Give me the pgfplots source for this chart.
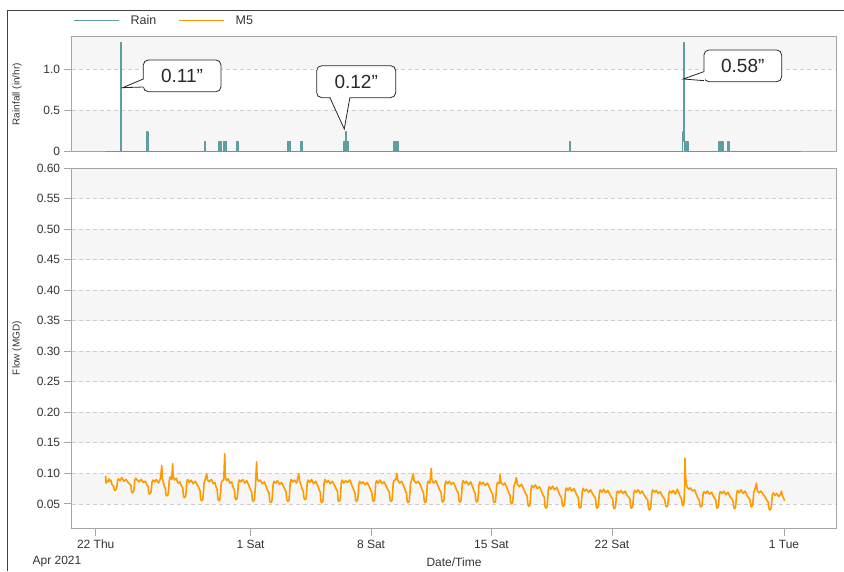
\documentclass[border=0pt]{standalone}
\usepackage{fontspec}
\setmainfont{Liberation Sans}
\usepackage{pgfplots}
\pgfplotsset{compat=1.18}

\definecolor{rain}{RGB}{95,158,160}
\definecolor{flow}{RGB}{255,155,0}
\definecolor{band}{RGB}{246,246,246}
\definecolor{gridc}{RGB}{205,205,205}
\definecolor{axc}{RGB}{165,165,165}
\definecolor{txt}{RGB}{51,51,51}
\definecolor{callc}{RGB}{40,40,40}

\pgfplotsset{
  mystyle/.style={
    scale only axis, width=765pt,
    xmin=-1.395, xmax=43.06,
    axis line style={axc, line width=0.9pt},
    tick style={axc, line width=0.9pt},
    tick align=outside, major tick length=8pt,
    xtick pos=bottom, ytick pos=left,
    ymajorgrids, grid style={gridc, dash pattern=on 4pt off 3pt, line width=0.7pt},
    tick label style={font=\fontsize{12}{14}\selectfont, text=txt},
    /pgf/number format/assume math mode=true,
  },
  bandstyle/.style={scale only axis, width=765pt, xmin=-1.395, xmax=43.06, hide axis},
}

\begin{document}
\begin{tikzpicture}
\useasboundingbox (0,0) rectangle (844pt,571pt);

% ---------------- background bands ----------------
\begin{axis}[bandstyle, at={(71.7pt,419.3pt)}, anchor=south west, height=115pt, ymin=0, ymax=1.392]
\fill[band] (axis cs:-1.395,0) rectangle (axis cs:43.06,0.5);
\fill[band] (axis cs:-1.395,1) rectangle (axis cs:43.06,1.392);
\end{axis}
\begin{axis}[bandstyle, at={(71.7pt,42.7pt)}, anchor=south west, height=360.3pt, ymin=0.01, ymax=0.6]
\fill[band] (axis cs:-1.395,0.05) rectangle (axis cs:43.06,0.10);
\fill[band] (axis cs:-1.395,0.15) rectangle (axis cs:43.06,0.20);
\fill[band] (axis cs:-1.395,0.25) rectangle (axis cs:43.06,0.30);
\fill[band] (axis cs:-1.395,0.35) rectangle (axis cs:43.06,0.40);
\fill[band] (axis cs:-1.395,0.45) rectangle (axis cs:43.06,0.50);
\fill[band] (axis cs:-1.395,0.55) rectangle (axis cs:43.06,0.60);
\end{axis}

% ---------------- Rain panel ----------------
\begin{axis}[mystyle, at={(71.7pt,419.3pt)}, anchor=south west, height=115pt,
  ymin=0, ymax=1.392, ytick={0,0.5,1}, yticklabels={0,0.5,1.0},
  xtick=\empty,
  ylabel={Rainfall (in/hr)},
  ylabel style={at={(axis description cs:-0.0715,0.5)}, anchor=center, font=\fontsize{10}{12}\selectfont, text=txt},
  legend style={at={(axis description cs:0,1)}, anchor=west, yshift=16.2pt, xshift=1.3pt,
    draw=none, fill=none, inner sep=0pt, legend columns=2,
    font=\fontsize{12.5}{14}\selectfont, text=txt,
    /tikz/every odd column/.append style={column sep=9pt},
    /tikz/every even column/.append style={column sep=20pt}},
  legend image code/.code={\draw[#1] (0pt,0pt) -- (45pt,0pt);},
]
\addplot[rain, line width=1.4pt, line join=round] coordinates {
(0.55,0)(1.45,0)(1.45,1.32)(1.49,1.32)(1.49,0)
(2.97,0)(2.97,0.24)(3.03,0.24)(3.03,0)
(6.32,0)(6.32,0.12)(6.38,0.12)(6.38,0)
(7.16,0)(7.16,0.12)(7.18,0.12)(7.18,0)(7.20,0)(7.20,0.12)(7.22,0.12)(7.22,0)(7.24,0)(7.24,0.12)(7.26,0.12)(7.26,0)(7.28,0)(7.28,0.12)(7.30,0.12)(7.30,0)
(7.46,0)(7.46,0.12)(7.48,0.12)(7.48,0)(7.50,0)(7.50,0.12)(7.52,0.12)(7.52,0)(7.54,0)(7.54,0.12)(7.56,0.12)(7.56,0)
(8.20,0)(8.20,0.12)(8.26,0.12)(8.26,0)
(11.14,0)(11.14,0.12)(11.16,0.12)(11.16,0)(11.18,0)(11.18,0.12)(11.20,0.12)(11.20,0)(11.22,0)(11.22,0.12)(11.24,0.12)(11.24,0)(11.26,0)(11.26,0.12)(11.28,0.12)(11.28,0)(11.30,0)(11.30,0.12)(11.31,0.12)(11.31,0)
(11.94,0)(11.94,0.12)(12.00,0.12)(12.00,0)
(14.43,0)(14.43,0.12)(14.45,0.12)(14.45,0)(14.47,0)(14.47,0.12)(14.49,0.12)(14.49,0)(14.51,0)(14.51,0.12)(14.53,0.12)(14.53,0.24)(14.58,0.24)(14.58,0.12)(14.60,0.12)(14.60,0)(14.62,0)(14.62,0.12)(14.64,0.12)(14.64,0)(14.66,0)(14.66,0.12)(14.68,0.12)(14.68,0)(14.70,0)
(17.34,0)(17.34,0.12)(17.36,0.12)(17.36,0)(17.38,0)(17.38,0.12)(17.40,0.12)(17.40,0)(17.42,0)(17.42,0.12)(17.44,0.12)(17.44,0)(17.46,0)(17.46,0.12)(17.48,0.12)(17.48,0)(17.50,0)(17.50,0.12)(17.52,0.12)(17.52,0)(17.54,0)(17.54,0.12)(17.56,0.12)(17.56,0)
(27.53,0)(27.53,0.12)(27.59,0.12)(27.59,0)
(34.10,0)(34.10,0.12)(34.12,0.12)(34.12,0.24)(34.17,0.24)(34.17,1.32)(34.20,1.32)(34.20,0.24)(34.22,0.24)(34.22,0.12)(34.24,0.12)(34.24,0)(34.26,0)(34.26,0.12)(34.28,0.12)(34.28,0)(34.30,0)(34.30,0.12)(34.32,0.12)(34.32,0)(34.34,0)(34.34,0.12)(34.36,0.12)(34.36,0)(34.38,0)(34.38,0.12)(34.40,0.12)(34.40,0)(34.42,0)(34.42,0.12)(34.43,0.12)(34.43,0)
(36.23,0)(36.23,0.12)(36.25,0.12)(36.25,0)(36.27,0)(36.27,0.12)(36.29,0.12)(36.29,0)(36.31,0)(36.31,0.12)(36.33,0.12)(36.33,0)(36.35,0)(36.35,0.12)(36.37,0.12)(36.37,0)(36.39,0)(36.39,0.12)(36.41,0.12)(36.41,0)(36.43,0)(36.43,0.12)(36.45,0.12)(36.45,0)(36.47,0)
(36.75,0)(36.75,0.12)(36.81,0.12)(36.81,0)
(40.98,0)
};
\addlegendentry{Rain}
\addlegendimage{flow, line width=1.4pt}
\addlegendentry{M5}
% callouts
\filldraw[fill=white, draw=callc, line width=0.8pt, rounded corners=5pt] (axis cs:2.766,0.726) rectangle (axis cs:7.281,1.110);
\fill[white] (axis cs:2.84,0.88) -- (axis cs:1.569,0.775) -- (axis cs:2.84,0.783) -- cycle;
\draw[callc, line width=0.8pt] (axis cs:2.766,0.88) -- (axis cs:1.569,0.775) -- (axis cs:2.766,0.783);
\node[font=\fontsize{19}{22}\selectfont, text=callc] at (axis cs:5.02,0.918) {0.11”};

\filldraw[fill=white, draw=callc, line width=0.8pt, rounded corners=5pt] (axis cs:12.842,0.654) rectangle (axis cs:17.432,1.041);
\fill[white] (axis cs:13.61,0.67) -- (axis cs:14.445,0.275) -- (axis cs:14.77,0.67) -- cycle;
\draw[callc, line width=0.8pt] (axis cs:13.61,0.654) -- (axis cs:14.445,0.275) -- (axis cs:14.77,0.654);
\node[font=\fontsize{19}{22}\selectfont, text=callc] at (axis cs:15.137,0.848) {0.12”};

\filldraw[fill=white, draw=callc, line width=0.8pt, rounded corners=5pt] (axis cs:35.343,0.847) rectangle (axis cs:39.861,1.231);
\fill[white] (axis cs:35.42,0.969) -- (axis cs:34.143,0.880) -- (axis cs:35.42,0.860) -- cycle;
\draw[callc, line width=0.8pt] (axis cs:35.343,0.969) -- (axis cs:34.143,0.880) -- (axis cs:35.343,0.860);
\node[font=\fontsize{19}{22}\selectfont, text=callc] at (axis cs:37.60,1.039) {0.58”};
\end{axis}

% ---------------- Flow panel ----------------
\begin{axis}[mystyle, at={(71.7pt,42.7pt)}, anchor=south west, height=360.3pt,
  ymin=0.01, ymax=0.6,
  ytick={0.05,0.1,0.15,0.2,0.25,0.3,0.35,0.4,0.45,0.5,0.55,0.6},
  yticklabel style={/pgf/number format/.cd, fixed, fixed zerofill, precision=2},
  xtick={0,9,16,23,30,40}, xticklabels={22 Thu,1 Sat,8 Sat,15 Sat,22 Sat,1 Tue},
  ylabel={Flow (MGD)},
  ylabel style={at={(axis description cs:-0.0715,0.5)}, anchor=center, font=\fontsize{10}{12}\selectfont, text=txt},
]
\addplot[flow, line width=1.6pt, line join=round] coordinates {
(0.58,0.096)(0.60,0.084)(0.64,0.088)(0.70,0.086)(0.76,0.091)(0.82,0.087)(0.88,0.089)(0.94,0.082)
(1.00,0.080)(1.05,0.078)(1.08,0.073)(1.12,0.072)(1.20,0.074)(1.24,0.080)(1.27,0.088)(1.32,0.091)(1.42,0.088)(1.52,0.093)(1.64,0.087)(1.76,0.090)(1.88,0.085)
(2.00,0.082)(2.05,0.080)(2.08,0.070)(2.12,0.068)(2.20,0.070)(2.24,0.077)(2.27,0.088)(2.32,0.092)(2.42,0.089)(2.52,0.086)(2.64,0.090)(2.76,0.085)(2.88,0.087)
(3.00,0.080)(3.05,0.078)(3.08,0.068)(3.12,0.066)(3.20,0.068)(3.24,0.075)(3.27,0.085)(3.32,0.089)(3.42,0.086)(3.52,0.090)(3.64,0.084)(3.76,0.091)(3.84,0.113)(3.87,0.092)(3.94,0.084)
(4.00,0.078)(4.05,0.075)(4.08,0.065)(4.12,0.063)(4.20,0.065)(4.24,0.074)(4.27,0.087)(4.32,0.094)(4.42,0.090)(4.47,0.116)(4.50,0.095)(4.58,0.089)(4.68,0.092)(4.78,0.084)(4.88,0.086)
(5.00,0.079)(5.06,0.076)(5.10,0.063)(5.15,0.060)(5.22,0.062)(5.26,0.071)(5.29,0.085)(5.34,0.090)(5.44,0.085)(5.54,0.089)(5.66,0.083)(5.78,0.087)(5.90,0.081)
(6.00,0.076)(6.06,0.072)(6.10,0.058)(6.15,0.055)(6.22,0.057)(6.26,0.068)(6.29,0.083)(6.34,0.088)(6.45,0.099)(6.50,0.089)(6.60,0.086)(6.72,0.090)(6.82,0.083)(6.92,0.085)
(7.00,0.077)(7.06,0.073)(7.10,0.058)(7.16,0.055)(7.22,0.058)(7.26,0.070)(7.29,0.083)(7.34,0.087)(7.44,0.090)(7.50,0.132)(7.53,0.095)(7.60,0.088)(7.70,0.091)(7.80,0.084)(7.90,0.086)
(8.00,0.076)(8.06,0.073)(8.10,0.060)(8.15,0.057)(8.22,0.059)(8.26,0.070)(8.29,0.084)(8.34,0.089)(8.44,0.086)(8.54,0.090)(8.66,0.084)(8.78,0.088)(8.90,0.080)
(9.00,0.073)(9.06,0.070)(9.10,0.057)(9.15,0.054)(9.22,0.057)(9.26,0.070)(9.29,0.082)(9.35,0.119)(9.38,0.092)(9.46,0.087)(9.56,0.089)(9.68,0.083)(9.80,0.086)(9.90,0.079)
(10.00,0.071)(10.07,0.068)(10.11,0.055)(10.17,0.052)(10.24,0.055)(10.28,0.068)(10.31,0.082)(10.36,0.087)(10.46,0.084)(10.56,0.088)(10.68,0.082)(10.80,0.085)(10.90,0.079)
(11.00,0.073)(11.06,0.070)(11.10,0.057)(11.16,0.054)(11.23,0.056)(11.27,0.069)(11.30,0.084)(11.35,0.090)(11.45,0.086)(11.55,0.089)(11.67,0.084)(11.80,0.099)(11.84,0.088)(11.92,0.082)
(12.00,0.074)(12.06,0.071)(12.10,0.060)(12.15,0.057)(12.22,0.059)(12.26,0.070)(12.29,0.085)(12.34,0.089)(12.44,0.085)(12.54,0.090)(12.66,0.083)(12.78,0.087)(12.90,0.080)
(13.00,0.072)(13.05,0.069)(13.08,0.055)(13.12,0.052)(13.20,0.054)(13.24,0.068)(13.27,0.084)(13.32,0.090)(13.42,0.085)(13.52,0.088)(13.64,0.083)(13.76,0.087)(13.88,0.080)
(14.00,0.073)(14.05,0.070)(14.08,0.057)(14.12,0.054)(14.20,0.056)(14.24,0.069)(14.27,0.084)(14.32,0.089)(14.42,0.084)(14.52,0.088)(14.64,0.085)(14.76,0.089)(14.88,0.081)
(15.00,0.072)(15.06,0.069)(15.10,0.057)(15.15,0.054)(15.22,0.056)(15.26,0.068)(15.29,0.082)(15.34,0.087)(15.44,0.083)(15.54,0.086)(15.66,0.081)(15.78,0.085)(15.90,0.078)
(16.00,0.071)(16.05,0.068)(16.09,0.057)(16.13,0.054)(16.20,0.056)(16.24,0.069)(16.27,0.083)(16.32,0.088)(16.42,0.084)(16.52,0.089)(16.64,0.083)(16.76,0.086)(16.88,0.079)
(17.00,0.072)(17.06,0.069)(17.10,0.057)(17.15,0.054)(17.22,0.056)(17.26,0.070)(17.29,0.084)(17.34,0.088)(17.44,0.090)(17.50,0.100)(17.55,0.089)(17.66,0.084)(17.78,0.087)(17.90,0.079)
(18.00,0.071)(18.06,0.068)(18.10,0.055)(18.15,0.052)(18.22,0.054)(18.26,0.068)(18.29,0.083)(18.34,0.087)(18.45,0.099)(18.50,0.088)(18.62,0.084)(18.74,0.087)(18.86,0.081)
(19.00,0.071)(19.05,0.068)(19.09,0.055)(19.13,0.052)(19.20,0.054)(19.24,0.068)(19.27,0.082)(19.32,0.087)(19.42,0.084)(19.50,0.108)(19.53,0.090)(19.64,0.084)(19.76,0.088)(19.88,0.080)
(20.00,0.072)(20.07,0.069)(20.11,0.056)(20.16,0.053)(20.23,0.055)(20.27,0.068)(20.30,0.082)(20.35,0.087)(20.45,0.083)(20.55,0.087)(20.67,0.082)(20.79,0.085)(20.90,0.078)
(21.00,0.071)(21.07,0.068)(21.11,0.056)(21.16,0.053)(21.23,0.055)(21.27,0.068)(21.30,0.083)(21.35,0.088)(21.45,0.084)(21.55,0.087)(21.67,0.081)(21.79,0.086)(21.90,0.078)
(22.00,0.070)(22.05,0.067)(22.09,0.056)(22.13,0.053)(22.20,0.055)(22.24,0.067)(22.27,0.081)(22.32,0.086)(22.42,0.082)(22.52,0.085)(22.64,0.080)(22.76,0.084)(22.88,0.077)
(23.00,0.069)(23.07,0.066)(23.11,0.055)(23.16,0.052)(23.23,0.054)(23.27,0.067)(23.30,0.080)(23.35,0.085)(23.45,0.083)(23.50,0.098)(23.54,0.086)(23.66,0.081)(23.78,0.084)(23.90,0.076)
(24.00,0.068)(24.07,0.065)(24.11,0.053)(24.16,0.050)(24.23,0.052)(24.27,0.065)(24.30,0.078)(24.35,0.083)(24.45,0.093)(24.50,0.082)(24.62,0.078)(24.74,0.082)(24.86,0.075)
(25.00,0.066)(25.07,0.063)(25.11,0.049)(25.16,0.046)(25.23,0.048)(25.27,0.062)(25.30,0.075)(25.35,0.080)(25.45,0.077)(25.55,0.081)(25.67,0.075)(25.79,0.078)(25.90,0.071)
(26.00,0.064)(26.07,0.061)(26.11,0.046)(26.16,0.043)(26.23,0.045)(26.27,0.060)(26.30,0.073)(26.35,0.078)(26.45,0.074)(26.55,0.079)(26.67,0.073)(26.79,0.077)(26.90,0.069)
(27.00,0.063)(27.07,0.060)(27.11,0.049)(27.16,0.046)(27.23,0.048)(27.27,0.060)(27.30,0.071)(27.35,0.076)(27.45,0.072)(27.55,0.077)(27.67,0.071)(27.79,0.075)(27.90,0.068)
(28.00,0.062)(28.05,0.059)(28.08,0.046)(28.12,0.043)(28.20,0.045)(28.24,0.058)(28.27,0.070)(28.32,0.075)(28.42,0.071)(28.52,0.074)(28.64,0.069)(28.76,0.073)(28.88,0.066)
(29.00,0.061)(29.05,0.058)(29.08,0.046)(29.12,0.043)(29.20,0.045)(29.24,0.057)(29.27,0.069)(29.32,0.073)(29.42,0.069)(29.52,0.074)(29.64,0.068)(29.76,0.072)(29.88,0.065)
(30.00,0.060)(30.05,0.057)(30.08,0.045)(30.12,0.042)(30.20,0.044)(30.24,0.056)(30.27,0.067)(30.32,0.071)(30.42,0.068)(30.52,0.072)(30.64,0.067)(30.76,0.071)(30.88,0.064)
(31.00,0.060)(31.05,0.057)(31.08,0.046)(31.12,0.043)(31.20,0.045)(31.24,0.057)(31.27,0.068)(31.32,0.072)(31.42,0.069)(31.52,0.073)(31.64,0.067)(31.76,0.071)(31.88,0.064)
(32.00,0.059)(32.08,0.056)(32.12,0.043)(32.18,0.040)(32.25,0.043)(32.29,0.057)(32.32,0.069)(32.37,0.073)(32.47,0.069)(32.57,0.072)(32.69,0.067)(32.81,0.070)(32.92,0.063)
(33.00,0.060)(33.07,0.057)(33.11,0.048)(33.17,0.045)(33.24,0.047)(33.28,0.058)(33.31,0.068)(33.36,0.071)(33.46,0.068)(33.56,0.072)(33.68,0.066)(33.80,0.074)(33.90,0.067)
(34.00,0.060)(34.05,0.058)(34.08,0.049)(34.12,0.047)(34.18,0.050)(34.22,0.075)(34.24,0.125)(34.27,0.100)(34.31,0.085)(34.36,0.078)(34.46,0.074)(34.56,0.076)(34.68,0.071)(34.80,0.073)(34.90,0.066)
(35.00,0.059)(35.07,0.056)(35.11,0.048)(35.16,0.045)(35.23,0.047)(35.27,0.058)(35.30,0.067)(35.35,0.070)(35.45,0.067)(35.55,0.071)(35.67,0.066)(35.79,0.069)(35.90,0.062)
(36.00,0.058)(36.04,0.055)(36.07,0.046)(36.11,0.043)(36.18,0.045)(36.22,0.057)(36.25,0.067)(36.30,0.070)(36.40,0.067)(36.50,0.071)(36.62,0.065)(36.74,0.069)(36.86,0.062)
(37.00,0.057)(37.04,0.054)(37.07,0.045)(37.11,0.042)(37.18,0.044)(37.22,0.057)(37.25,0.068)(37.30,0.072)(37.40,0.068)(37.50,0.073)(37.62,0.067)(37.74,0.071)(37.86,0.063)
(38.00,0.058)(38.03,0.055)(38.06,0.047)(38.10,0.045)(38.17,0.047)(38.21,0.058)(38.24,0.069)(38.30,0.073)(38.40,0.084)(38.44,0.072)(38.54,0.068)(38.66,0.071)(38.78,0.066)(38.90,0.061)
(39.00,0.056)(39.08,0.053)(39.12,0.043)(39.18,0.040)(39.25,0.043)(39.29,0.055)(39.32,0.065)(39.37,0.068)(39.47,0.064)(39.57,0.067)(39.69,0.062)(39.80,0.066)(39.85,0.071)(39.90,0.063)(39.96,0.060)(40.03,0.055)
};
\end{axis}

\node[font=\fontsize{12}{14}\selectfont, text=txt] at (57pt,9pt) {Apr 2021};
\node[font=\fontsize{12}{14}\selectfont, text=txt] at (454pt,9pt) {Date/Time};
\draw[black!75, line width=1pt] (7pt,0pt) -- (7pt,560pt) -- (844pt,560pt);
\end{tikzpicture}
\end{document}
